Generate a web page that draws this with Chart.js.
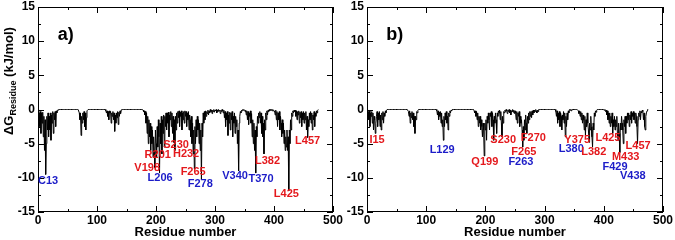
<!DOCTYPE html>
<html>
<head>
<meta charset="utf-8">
<script src="https://cdn.jsdelivr.net/npm/chart.js@4.4.0/dist/chart.umd.min.js"></script>
<style>
  body { margin: 0; background: #fff; }
  #wrap { position: relative; width: 675px; height: 240px; }
  #cA { position: absolute; left: 0; top: 0; }
  #cB { position: absolute; left: 337px; top: 0; }
</style>
</head>
<body>
<div id="wrap">
  <canvas id="cA" width="350" height="240"></canvas>
  <canvas id="cB" width="338" height="240"></canvas>
</div>
<script>
// per-residue energy, residues 1..475, 25 per row
const dgA = [
  0,-0.5,-2.5,-0.3,-3.5,-0.5,-2,-0.4,-4,-1,-6,-1.5,-9.5,-5,-1,-3,-0.5,-4,-1,-3,-0.5,-4.5,-0.8,-2,-0.3,
  -3.5,-0.5,-1.5,-0.3,-2.5,-0.2,-0.5,-0.1,-0.1,0,0,0,0,0,0,0,0,0,0,0,0,0,0,0,0,
  0,0,0,0,0,0,0,0,0,0,0,0,0,0,0,0,0,0,0,-0.5,-1.5,-0.5,-3.8,-1,-2,
  -0.5,-1.5,-0.3,-2.5,-0.5,-3,-1.2,-0.2,-0.1,0,0,0,0,0,0,0,0,0,0,0,0,0,0,0,0,
  0,0,0,0,0,0,0,0,0,0,0,0,0,0,-0.2,-0.5,-0.2,-1,-0.3,-1.5,-0.2,-0.5,-0.3,-2,-0.5,
  -1,-0.3,-1.5,-0.5,-3.2,-0.8,-2,-0.5,-1.2,-0.3,-2.2,-0.4,-1,-0.2,-0.6,-0.1,0,0,0,0,0,0,0,0,0,
  0,0,0,0,0,0,0,0,0,0,0,0,0,0,0,0,0,0,0,0,0,0,0,0,0,
  0,0,-0.1,-0.3,-0.2,-0.8,-0.3,-2,-0.5,-3.5,-1,-5,-1.5,-4,-2,-6,-2.5,-5,-3,-7,-4,-6,-8.5,-3,-5,
  -7,-2.5,-5.5,-1.5,-4,-9.3,-2,-5,-1,-6.5,-1.5,-3.5,-0.8,-5.5,-1,-2.5,-0.5,-3,-0.5,-2,-0.4,-4,-0.8,-1.5,-0.3,
  -2.5,-0.5,-3.5,-1,-4.8,-1.5,-6,-1,-3,-0.5,-2,-0.3,-1.2,-0.2,-2.5,-0.4,-1,-0.2,-3,-0.5,-1.5,-0.3,-2,-0.2,-1,
  -0.3,-2.5,-0.5,-1.5,-0.3,-3,-0.8,-1.5,-4,-1,-5,-2,-6.5,-3,-8.7,-2.5,-5,-1.5,-4,-1,-3,-1.5,-5,-2,-6,
  -3,-10.3,-2,-4,-0.5,-2,-0.3,-1.5,-0.2,-1,-0.3,-0.6,-0.1,-0.8,-0.2,-0.5,0,-0.3,-0.1,-0.6,-0.1,-0.3,0,-0.4,-0.1,
  -0.2,0,-0.5,-0.1,-0.3,0,-0.2,-0.1,-0.6,-0.1,-0.3,0,-0.2,-0.5,-0.1,-1.2,-0.3,-2.5,-0.5,-1.5,-0.3,-3.8,-0.8,-2,-0.4,
  -3,-0.5,-1.5,-0.3,-4,-1,-2,-0.5,-3.5,-1,-2.5,-1.5,-5,-3,-9,-2,-1,-0.3,-0.5,-0.1,-0.2,0,-0.1,0,-0.2,
  -0.3,-0.1,-0.8,-0.2,-1.5,-0.3,-2.2,-0.5,-1,-0.2,-2,-0.6,-4,-1.5,-5,-2,-6,-3,-9.3,-2.5,-4,-1,-2,-0.5,-1.2,
  -0.3,-2,-0.5,-3.5,-1,-4,-2,-6.5,-1.5,-3,-0.5,-1.5,-0.2,-0.8,-0.1,-0.3,0,-0.2,0,-0.1,0,-0.2,0,-0.1,-0.3,
  -0.2,-0.8,-0.1,-1.5,-0.3,-2.5,-0.5,-1.5,-0.3,-3,-1,-2,-4,-1.5,-3.5,-2,-5,-3,-6,-4,-5.5,-3,-6,-4,-11.9,
  -3,-5,-1.5,-3,-0.5,-1,-0.2,-0.5,-0.1,-0.3,-0.1,-1,-0.2,-1.5,-0.3,-0.8,-0.2,-2,-0.4,-1.2,-0.3,-2.5,-0.5,-1.5,-0.3,
  -2,-0.5,-1.5,-0.3,-3,-1,-4.1,-1.5,-2.5,-0.5,-1.5,-0.3,-2,-0.5,-3,-0.8,-1.5,-0.3,-2.5,-0.5,-1,-0.2,-0.5,-0.1,0
];

const dgB = [
  0,-0.3,-1.5,-0.2,-2.5,-0.5,-1,-0.3,-2,-0.5,-3,-1,-1.5,-3.5,-2,-1,-0.3,-2.5,-0.5,-1.5,-0.3,-2.5,-0.8,-3,-0.5,
  -1.5,-0.3,-2,-0.5,-1,-0.2,-0.5,-0.1,0,0,0,0,0,0,0,0,0,0,0,0,0,0,0,0,0,
  0,0,0,0,0,0,0,0,0,0,0,0,0,0,0,0,0,0,0,-0.3,-1,-0.2,-2,-0.5,-1.2,
  -0.3,-1.5,-0.5,-2.5,-1,-3.5,-1,-1.5,-0.3,-0.5,-0.1,0,0,0,0,0,0,0,0,0,0,0,0,0,0,
  0,0,0,0,0,0,0,0,0,0,0,0,0,0,0,0,0,-0.2,-0.8,-0.2,-1.5,-0.4,-1,-0.3,-2,
  -0.5,-2.5,-1.5,-4.5,-1,-2.5,-0.5,-1.5,-0.3,-2,-1,-3,-0.5,-1,-0.2,-0.5,-0.1,-0.2,0,0,0,0,0,0,0,
  0,0,0,0,0,0,0,0,0,0,0,0,0,0,0,0,0,0,0,0,0,0,0,0,0,
  0,0,0,0,0,-0.2,-0.5,-0.2,-1,-0.3,-1.5,-0.5,-2.5,-1,-2,-1,-3,-1.5,-2.5,-4,-2,-3,-6.8,-2,-3,
  -1.5,-4.5,-1,-2,-0.5,-1.5,-3,-0.5,-1,-0.3,-2.5,-0.5,-1.5,-4.5,-1,-2,-0.5,-1.5,-3.5,-0.5,-1,-0.2,-0.5,-0.1,-1.5,
  -0.3,-2,-4,-1,-2,-0.3,-0.5,-0.1,-0.3,0,-0.2,-0.6,-0.1,-0.3,0,-0.5,-0.1,-0.8,-0.2,-0.3,0,-0.4,-0.1,-0.6,-0.2,
  -0.5,-1.5,-0.3,-2,-0.5,-1,-0.3,-2.5,-1,-2,-1.5,-3,-5.5,-2.5,-4.5,-1.5,-3,-0.8,-2,-3.5,-1,-2,-0.5,-1.5,-0.3,
  -1,-0.3,-1.2,-0.2,-0.8,-0.1,-0.5,-0.1,-0.3,0,-0.2,-0.5,-0.1,-0.3,0,0,0,0,0,0,0,0,0,0,0,
  0,0,0,0,0,0,0,0,0,0,0,0,0,0,0,0,0,0,-0.3,-1,-0.2,-2,-0.5,-1.5,-0.3,
  -2.5,-0.5,-1,-3,-0.8,-1.5,-0.3,-2,-0.5,-4,-1,-2.5,-0.5,-1.5,-0.2,-0.5,0,-0.1,0,-0.2,0,0,0,0,0,
  0,0,0,0,0,0,-0.2,-0.6,-0.2,-1,-0.3,-1.5,-0.5,-2,-0.8,-1.5,-3,-1,-3.8,-1.5,-2.5,-0.5,-2,-3,-4.8,
  -2,-3,-1,-2.5,-4,-5.5,-2,-3,-0.5,-1,-0.2,-0.4,-0.1,0,0,0,0,0,0,0,0,0,0,0,0,
  -0.1,0,-0.3,-0.1,-0.8,-0.2,-1.5,-0.5,-2,-0.5,-2.5,-1,-2,-0.5,-3.5,-1.5,-2.5,-1,-3,-1.5,-2.5,-1,-3.5,-4.5,-2,
  -3.5,-6.3,-2,-3,-1,-2,-3,-5,-1.5,-2.5,-1,-3.5,-1,-2,-0.5,-1.5,-0.5,-2.5,-0.8,-1.5,-0.3,-2,-0.5,-1,-0.3,
  -1.5,-0.5,-2,-0.5,-1,-2.5,-5,-1.5,-0.5,-1,-0.2,-1.5,-0.3,-0.5,-0.1,-0.3,-1.5,-0.5,-2.5,-3,-1,-0.5,-0.2,0,0
];

const xTicks = [0, 100, 200, 300, 400, 500];
const yTicks = [-15, -10, -5, 0, 5, 10, 15];

// highlighted residues, red = 'r', blue = 'b'
const namesA = ['C13','L206','V198','R201','S230','H232','F265','F278','V340','T370','L382','L425','L457'];
const kindsA = ['b','b','r','r','r','r','r','b','b','b','r','r','r'];
const namesB = ['I15','L129','Q199','S230','F270','F265','F263','Y375','L380','L382','L425','M433','L457','F429','V438'];
const kindsB = ['r','b','r','r','r','r','b','r','b','r','r','r','r','b','b'];

// where each label sits (residue, kJ/mol)
const posA = [[17,-10.4],[207,-10.0],[185,-8.6],[203,-6.6],[234,-5.2],[251,-6.5],[263,-9.1],[275,-10.9],[334,-9.8],[378,-10.1],[389,-7.6],[421,-12.3],[457,-4.6]];
const posB = [[17,-4.4],[127,-5.9],[199,-7.7],[230,-4.5],[281,-4.2],[265,-6.2],[260,-7.7],[355,-4.5],[345,-5.8],[383,-6.2],[407,-4.2],[437,-7.0],[458,-5.4],[419,-8.4],[449,-9.8]];

const FONT = '"Liberation Sans", Arial, sans-serif';
const RED = 'rgb(228,24,28)';
const BLUE = 'rgb(28,28,200)';

const decor = {
  id: 'decor',
  afterDatasetsDraw(chart, args, o) {
    const { ctx, chartArea: a, scales: { x, y } } = chart;
    ctx.save();
    ctx.strokeStyle = '#000';
    ctx.lineWidth = 1;
    ctx.strokeRect(a.left + 0.5, a.top + 0.5, a.right - a.left - 1, a.bottom - a.top - 1);
    ctx.beginPath();
    for (let v = 0; v <= 500; v += 50) {
      const px = Math.round(x.getPixelForValue(v)) + 0.5;
      const len = v % 100 ? 3 : 6;
      ctx.moveTo(px, a.bottom); ctx.lineTo(px, a.bottom - len);
      ctx.moveTo(px, a.top); ctx.lineTo(px, a.top + len);
    }
    for (let v = -15; v <= 15; v += 2.5) {
      const py = Math.round(y.getPixelForValue(v)) + 0.5;
      const len = v % 5 ? 3 : 6;
      ctx.moveTo(a.left, py); ctx.lineTo(a.left + len, py);
      ctx.moveTo(a.right, py); ctx.lineTo(a.right - len, py);
    }
    ctx.stroke();

    ctx.textAlign = 'center';
    ctx.textBaseline = 'middle';
    ctx.font = 'bold 11px ' + FONT;
    o.names.forEach((n, i) => {
      ctx.fillStyle = o.kinds[i] === 'r' ? RED : BLUE;
      ctx.fillText(n, x.getPixelForValue(o.pos[i][0]), y.getPixelForValue(o.pos[i][1]));
    });

    ctx.fillStyle = '#000';
    ctx.font = 'bold 18px ' + FONT;
    ctx.fillText(o.tag, x.getPixelForValue(47), y.getPixelForValue(10.9));

    if (o.yTitle) {
      ctx.translate(13, 135);
      ctx.rotate(-Math.PI / 2);
      ctx.textAlign = 'left';
      ctx.textBaseline = 'alphabetic';
      ctx.font = 'bold 13px ' + FONT;
      ctx.fillText('ΔG', 0, 0);
      let w = ctx.measureText('ΔG').width;
      ctx.font = 'bold 9px ' + FONT;
      ctx.fillText('Residue', w, 3);
      w += ctx.measureText('Residue').width;
      ctx.font = 'bold 13px ' + FONT;
      ctx.fillText(' (kJ/mol)', w, 0);
    }
    ctx.restore();
  }
};

function makeChart(id, dg, names, kinds, pos, tag, yTitle, yWidth, padRight) {
  return new Chart(document.getElementById(id), {
    type: 'line',
    data: {
      datasets: [{
        data: dg.map((v, i) => ({ x: i + 1, y: v })),
        borderColor: '#000',
        borderWidth: 1,
        pointRadius: 0,
        tension: 0,
        fill: false
      }]
    },
    options: {
      responsive: false,
      animation: false,
      layout: { padding: { top: 7, right: padRight, left: 0, bottom: 0 } },
      plugins: {
        legend: { display: false },
        tooltip: { enabled: false },
        decor: { names, kinds, pos, tag, yTitle }
      },
      scales: {
        x: {
          type: 'linear', min: 0, max: 500,
          afterBuildTicks: s => { s.ticks = xTicks.map(v => ({ value: v })); },
          grid: { display: false, drawTicks: false, tickLength: 0 },
          border: { display: false },
          ticks: { color: '#000', padding: 1, maxRotation: 0, autoSkip: false,
                   font: { family: FONT, weight: 'bold', size: 12 } },
          title: { display: true, text: 'Residue number', color: '#000',
                   padding: 0, font: { family: FONT, weight: 'bold', size: 13 } },
          afterFit: s => { s.height = 28; s.paddingLeft = 0; s.paddingRight = 0; }
        },
        y: {
          min: -15, max: 15,
          afterBuildTicks: s => { s.ticks = yTicks.map(v => ({ value: v })); },
          grid: { display: false, drawTicks: false, tickLength: 0 },
          border: { display: false },
          ticks: { color: '#000', padding: 3,
                   font: { family: FONT, weight: 'bold', size: 12 } },
          afterFit: s => { s.width = yWidth; s.paddingTop = 0; s.paddingBottom = 0; }
        }
      }
    },
    plugins: [decor]
  });
}

makeChart('cA', dgA, namesA, kindsA, posA, 'a)', true, 38, 17);
makeChart('cB', dgB, namesB, kindsB, posB, 'b)', false, 30, 12);
</script>
</body>
</html>
